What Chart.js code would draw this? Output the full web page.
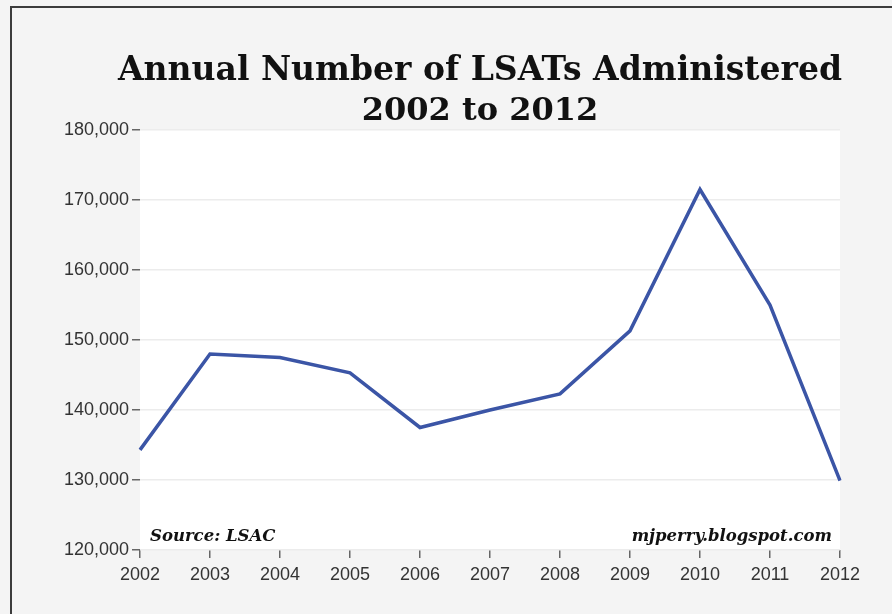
<!DOCTYPE html>
<html>
<head>
<meta charset="utf-8">
<script src="https://cdn.jsdelivr.net/npm/chart.js@4.4.1/dist/chart.umd.min.js"></script>
<style>
  body { margin: 0; background: #f4f4f4; }
  #wrap { width: 892px; height: 614px; }
</style>
</head>
<body>
<div id="wrap"><canvas id="lsat"></canvas></div>
<script>
// data
var years = ['2002', '2003', '2004', '2005', '2006', '2007', '2008', '2009', '2010', '2011', '2012'];
var tests = [134300, 148000, 147500, 145300, 137500, 140000, 142300, 151300, 171500, 155000, 129900];
var yTicks = [120000, 130000, 140000, 150000, 160000, 170000, 180000];

var titleLine1 = 'Annual Number of LSATs Administered';
var titleLine2 = '2002 to 2012';
var sourceText = 'Source: LSAC';
var siteText = 'mjperry.blogspot.com';

// background, frame, white plot area, titles
var backdrop = {
  id: 'backdrop',
  beforeDraw: function(chart) {
    var c = chart.ctx, a = chart.chartArea;
    c.save();
    c.fillStyle = '#f4f4f4';
    c.fillRect(0, 0, chart.width, chart.height);
    c.fillStyle = '#ffffff';
    c.fillRect(a.left, a.top, a.right - a.left, a.bottom - a.top);
    c.strokeStyle = '#3c3c3c';
    c.lineWidth = 2;
    c.beginPath();
    c.moveTo(11, chart.height);
    c.lineTo(11, 7);
    c.lineTo(chart.width, 7);
    c.stroke();
    c.restore();
  },
  afterDraw: function(chart) {
    var c = chart.ctx, a = chart.chartArea;
    c.save();
    c.fillStyle = '#111111';
    c.textAlign = 'center';
    c.textBaseline = 'alphabetic';
    c.font = 'bold 33px "DejaVu Serif"';
    c.fillText(titleLine1, 480, 80);
    c.font = 'bold 32px "DejaVu Serif"';
    c.fillText(titleLine2, 480, 120);
    c.font = 'italic bold 16.5px "DejaVu Serif"';
    c.textAlign = 'left';
    c.fillText(sourceText, a.left + 10, a.bottom - 9);
    c.textAlign = 'right';
    c.fillText(siteText, a.right - 8, a.bottom - 9);
    c.restore();
  }
};

var ctx = document.getElementById('lsat').getContext('2d');
var lsatChart = new Chart(ctx, {
  type: 'line',
  data: {
    labels: years,
    datasets: [{
      label: 'LSATs administered',
      data: tests,
      borderColor: '#3b55a6',
      borderWidth: 3.5,
      pointRadius: 0,
      tension: 0,
      fill: false
    }]
  },
  options: {
    responsive: true,
    maintainAspectRatio: false,
    animation: false,
    layout: { padding: { left: 10, right: 52, top: 130, bottom: 0 } },
    plugins: {
      legend: { display: false },
      title: { display: false },
      tooltip: { enabled: false }
    },
    scales: {
      x: {
        offset: false,
        border: { display: false },
        grid: { drawOnChartArea: false, tickLength: 8, tickColor: '#666666', lineWidth: 1.5 },
        ticks: {
          color: '#333333',
          font: { family: '"Liberation Sans", Arial', size: 18 },
          padding: 6,
          maxRotation: 0,
          autoSkip: false
        },
        afterFit: function(scale) { scale.height = 64; }
      },
      y: {
        min: 120000,
        max: 180000,
        border: { display: false },
        grid: { color: '#ececec', lineWidth: 1.5, tickLength: 8, tickColor: '#666666' },
        afterBuildTicks: function(scale) {
          scale.ticks = yTicks.map(function(v) { return { value: v }; });
        },
        ticks: {
          color: '#333333',
          font: { family: '"Liberation Sans", Arial', size: 18 },
          padding: 3,
          callback: function(v) { return v.toLocaleString('en-US'); }
        },
        afterFit: function(scale) { scale.width = 130; }
      }
    }
  },
  plugins: [backdrop]
});
</script>
</body>
</html>
